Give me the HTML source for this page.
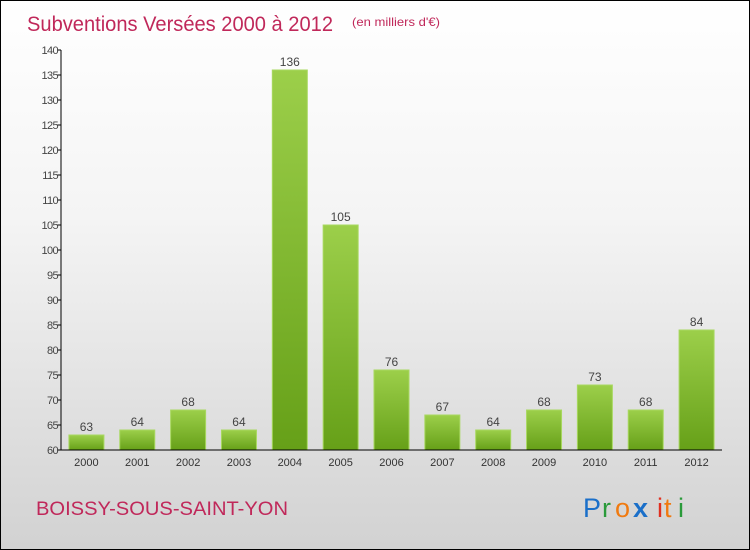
<!DOCTYPE html>
<html><head><meta charset="utf-8"><style>
body{margin:0;}
#wrap{position:relative;width:748px;height:548px;border:1px solid #000;background:linear-gradient(#ffffff 0%,#f4f4f4 40%,#d2d2d2 100%);font-family:"Liberation Sans",sans-serif;overflow:hidden}
</style></head><body>
<div id="wrap">
<svg id="chart" width="748" height="548">
<defs><linearGradient id="g" x1="0" y1="0" x2="0" y2="1"><stop offset="0" stop-color="#9ccf4a"/><stop offset="1" stop-color="#66a018"/></linearGradient></defs>
<text x="26" y="30" font-size="21" fill="#c0285a" textLength="306" lengthAdjust="spacingAndGlyphs">Subventions Versées 2000 à 2012</text>
<text x="351" y="25" font-size="12" fill="#c0285a" textLength="88" lengthAdjust="spacingAndGlyphs">(en milliers d'€)</text>
<text x="35" y="514" font-size="19" fill="#c0285a" textLength="252" lengthAdjust="spacingAndGlyphs">BOISSY-SOUS-SAINT-YON</text>
<g font-size="27">
<text x="582" y="516" fill="#1a6fc9">P</text><text x="601" y="516" fill="#2a9a3a">r</text><text x="614" y="516" fill="#f07a10">o</text><text x="632" y="516" fill="#1a6fc9" font-weight="bold">x</text><text x="656" y="516" fill="#e03020">i</text><text x="663" y="516" fill="#f07a10">t</text><text x="677" y="516" fill="#2a9a3a">i</text>
</g>
</svg>
</div>
<script>
const categories=["2000","2001","2002","2003","2004","2005","2006","2007","2008","2009","2010","2011","2012"];
const values=[63,64,68,64,136,105,76,67,64,68,73,68,84];
const yTicks=[60,65,70,75,80,85,90,95,100,105,110,115,120,125,130,135,140];
const NS="http://www.w3.org/2000/svg";
const svg=document.getElementById('chart');
const L=60,R=721,T=49,B=449,ymin=60,ymax=140;
const y=v=>B-(v-ymin)/(ymax-ymin)*(B-T);
const step=(R-L)/categories.length;
const x=i=>L+step*(i+0.5);
function mk(t,a){const e=document.createElementNS(NS,t);for(const k in a)e.setAttribute(k,a[k]);svg.appendChild(e);return e;}
values.forEach((v,i)=>{
 const r=mk('rect',{x:x(i)-17.5,y:y(v),width:35,height:B-y(v),fill:'url(#g)',stroke:'#a8d860','stroke-width':1});
 
 
 const t=mk('text',{x:x(i),y:y(v)-4,'text-anchor':'middle','font-size':12,fill:'#444'});
 t.textContent=v;
 
 
 const c=mk('text',{x:x(i),y:B+16,'text-anchor':'middle','font-size':11,fill:'#333'});
 c.textContent=categories[i];
 
 
});
const ax=mk('line',{x1:L,y1:T,x2:L,y2:B,stroke:'#000'});


const xa=mk('line',{x1:L,y1:B,x2:R,y2:B,stroke:'#000'});


yTicks.forEach(v=>{
 mk('line',{x1:L-4,y1:y(v),x2:L,y2:y(v),stroke:'#000'});
 const t=mk('text',{x:L-3,y:y(v)+4,'text-anchor':'end','font-size':11,fill:'#444','letter-spacing':'-0.6'});
 t.textContent=v;
 
 
});
</script>
</body></html>
